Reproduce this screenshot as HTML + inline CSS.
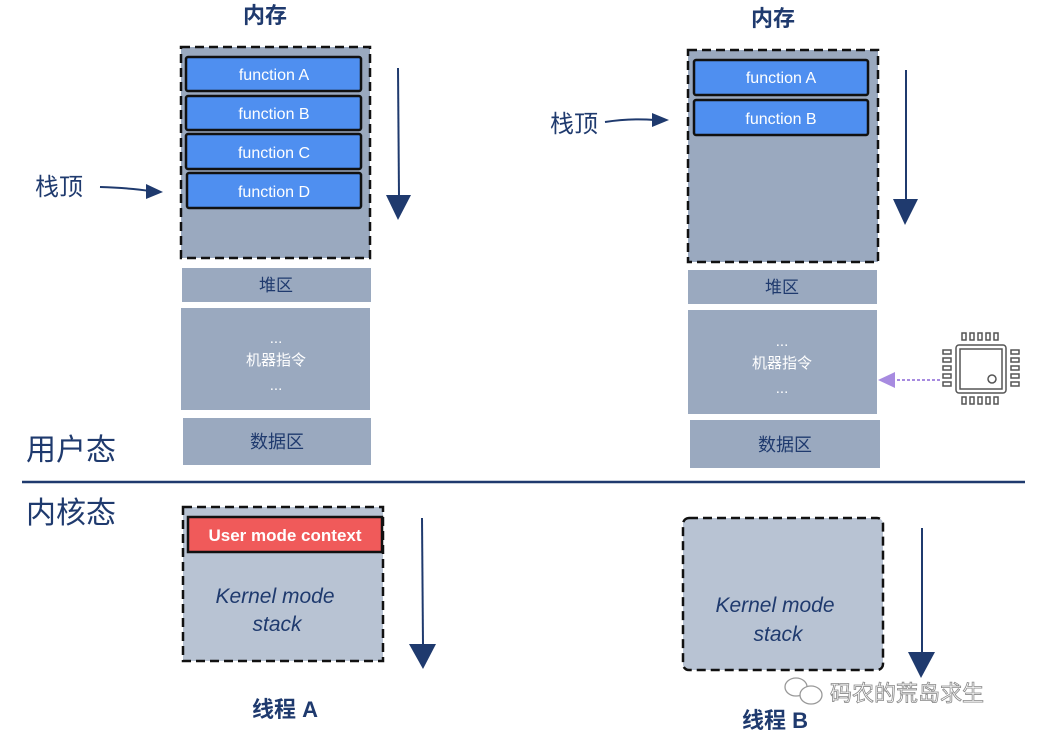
<!DOCTYPE html>
<html><head><meta charset="utf-8"><style>
html,body{margin:0;padding:0;background:#fff;width:1038px;height:739px;overflow:hidden}
text{font-family:"Liberation Sans","Noto Sans CJK SC",sans-serif}
</style></head><body>
<svg width="1038" height="739" viewBox="0 0 1038 739" xmlns="http://www.w3.org/2000/svg">
<g fill="#1f3a6e">
<!-- LEFT -->
<text x="265" y="23" font-size="22" font-weight="bold" text-anchor="middle">内存</text>
<rect x="181" y="47" width="189" height="211" fill="#9aa9bf" stroke="#111" stroke-width="2.5" stroke-dasharray="9,5"/>
<g stroke="#111" stroke-width="2.5" fill="#4f8ff0">
<rect x="186" y="57" width="175" height="34" rx="2"/>
<rect x="186" y="96" width="175" height="34" rx="2"/>
<rect x="186" y="134" width="175" height="35" rx="2"/>
<rect x="187" y="173" width="174" height="35" rx="2"/>
</g>
<g fill="#fff" font-size="16" text-anchor="middle">
<text x="274" y="80">function A</text><text x="274" y="119">function B</text>
<text x="274" y="158">function C</text><text x="274" y="197">function D</text>
</g>
<line x1="398" y1="68" x2="399" y2="196" stroke="#1f3a6e" stroke-width="2"/>
<polygon points="386,195 411,195 398,220"/>
<text x="35" y="195" font-size="24">栈顶</text>
<path d="M100 187 Q130 188 150 191" stroke="#1f3a6e" stroke-width="2" fill="none"/>
<polygon points="146,184 163,192 146,199"/>
<rect x="182" y="268" width="189" height="34" fill="#9aa9bf"/>
<text x="276" y="291" font-size="17" text-anchor="middle">堆区</text>
<rect x="181" y="308" width="189" height="102" fill="#9aa9bf"/>
<g fill="#fff" font-size="15" text-anchor="middle"><text x="276" y="343">...</text><text x="276" y="365">机器指令</text><text x="276" y="390">...</text></g>
<rect x="183" y="418" width="188" height="47" fill="#9aa9bf"/>
<text x="277" y="448" font-size="18" text-anchor="middle">数据区</text>
<text x="26" y="460" font-size="30">用户态</text>
<line x1="22" y1="482" x2="1025" y2="482" stroke="#1f3a6e" stroke-width="2.5"/>
<text x="26" y="523" font-size="30">内核态</text>
<rect x="183" y="507" width="200" height="154" fill="#b8c3d3" stroke="#111" stroke-width="2.5" stroke-dasharray="9,5"/>
<rect x="188" y="517" width="194" height="35" fill="#f05a5a" stroke="#111" stroke-width="2.5"/>
<text x="285" y="541" font-size="17" font-weight="bold" fill="#fff" text-anchor="middle">User mode context</text>
<g font-size="21" font-style="italic" text-anchor="middle"><text x="275" y="603">Kernel mode</text><text x="277" y="631">stack</text></g>
<line x1="422" y1="518" x2="423" y2="645" stroke="#1f3a6e" stroke-width="2"/>
<polygon points="409,644 436,644 423,669"/>
<text x="285" y="717" font-size="22" font-weight="bold" text-anchor="middle">线程 A</text>
<!-- RIGHT -->
<text x="773" y="26" font-size="22" font-weight="bold" text-anchor="middle">内存</text>
<rect x="688" y="50" width="190" height="212" fill="#9aa9bf" stroke="#111" stroke-width="2.5" stroke-dasharray="9,5"/>
<g stroke="#111" stroke-width="2.5" fill="#4f8ff0">
<rect x="694" y="60" width="174" height="35" rx="2"/>
<rect x="694" y="100" width="174" height="35" rx="2"/>
</g>
<g fill="#fff" font-size="16" text-anchor="middle"><text x="781" y="83">function A</text><text x="781" y="124">function B</text></g>
<line x1="906" y1="70" x2="906" y2="200" stroke="#1f3a6e" stroke-width="2"/>
<polygon points="893,199 918,199 905,225"/>
<text x="550" y="132" font-size="24">栈顶</text>
<path d="M605 122 Q630 118 655 120" stroke="#1f3a6e" stroke-width="2" fill="none"/>
<polygon points="652,113 669,120 652,127"/>
<rect x="688" y="270" width="189" height="34" fill="#9aa9bf"/>
<text x="782" y="293" font-size="17" text-anchor="middle">堆区</text>
<rect x="688" y="310" width="189" height="104" fill="#9aa9bf"/>
<g fill="#fff" font-size="15" text-anchor="middle"><text x="782" y="346">...</text><text x="782" y="368">机器指令</text><text x="782" y="393">...</text></g>
<rect x="690" y="420" width="190" height="48" fill="#9aa9bf"/>
<text x="785" y="451" font-size="18" text-anchor="middle">数据区</text>
<line x1="940" y1="380" x2="893" y2="380" stroke="#a78be0" stroke-width="2" stroke-dasharray="3,2"/>
<polygon points="878,380 895,372 895,388" fill="#a78be0"/>
<g fill="none" stroke="#555" stroke-width="1.5">
<rect x="956" y="345" width="50" height="48" rx="3"/>
<rect x="960" y="349" width="42" height="40"/>
<circle cx="992" cy="379" r="4"/>
<rect x="962" y="333" width="4" height="7"/><rect x="970" y="333" width="4" height="7"/><rect x="978" y="333" width="4" height="7"/><rect x="986" y="333" width="4" height="7"/><rect x="994" y="333" width="4" height="7"/>
<rect x="962" y="397" width="4" height="7"/><rect x="970" y="397" width="4" height="7"/><rect x="978" y="397" width="4" height="7"/><rect x="986" y="397" width="4" height="7"/><rect x="994" y="397" width="4" height="7"/>
<rect x="943" y="350" width="8" height="4"/><rect x="943" y="358" width="8" height="4"/><rect x="943" y="366" width="8" height="4"/><rect x="943" y="374" width="8" height="4"/><rect x="943" y="382" width="8" height="4"/>
<rect x="1011" y="350" width="8" height="4"/><rect x="1011" y="358" width="8" height="4"/><rect x="1011" y="366" width="8" height="4"/><rect x="1011" y="374" width="8" height="4"/><rect x="1011" y="382" width="8" height="4"/>
</g>
<rect x="683" y="518" width="200" height="152" rx="6" fill="#b8c3d3" stroke="#111" stroke-width="2.5" stroke-dasharray="9,5"/>
<g font-size="21" font-style="italic" text-anchor="middle"><text x="775" y="612">Kernel mode</text><text x="778" y="641">stack</text></g>
<line x1="922" y1="528" x2="922" y2="653" stroke="#1f3a6e" stroke-width="2"/>
<polygon points="908,652 935,652 921,678"/>
<text x="775" y="728" font-size="22" font-weight="bold" text-anchor="middle">线程 B</text>
<g fill="none" stroke="#999" stroke-width="1.3">
<ellipse cx="796" cy="687" rx="11" ry="9"/><ellipse cx="811" cy="695" rx="11" ry="9" fill="#fff"/>
</g>
<text x="830" y="701" font-size="22" fill="#fff" stroke="#888" stroke-width="0.8">码农的荒岛求生</text>
</g>
</svg>
</body></html>
